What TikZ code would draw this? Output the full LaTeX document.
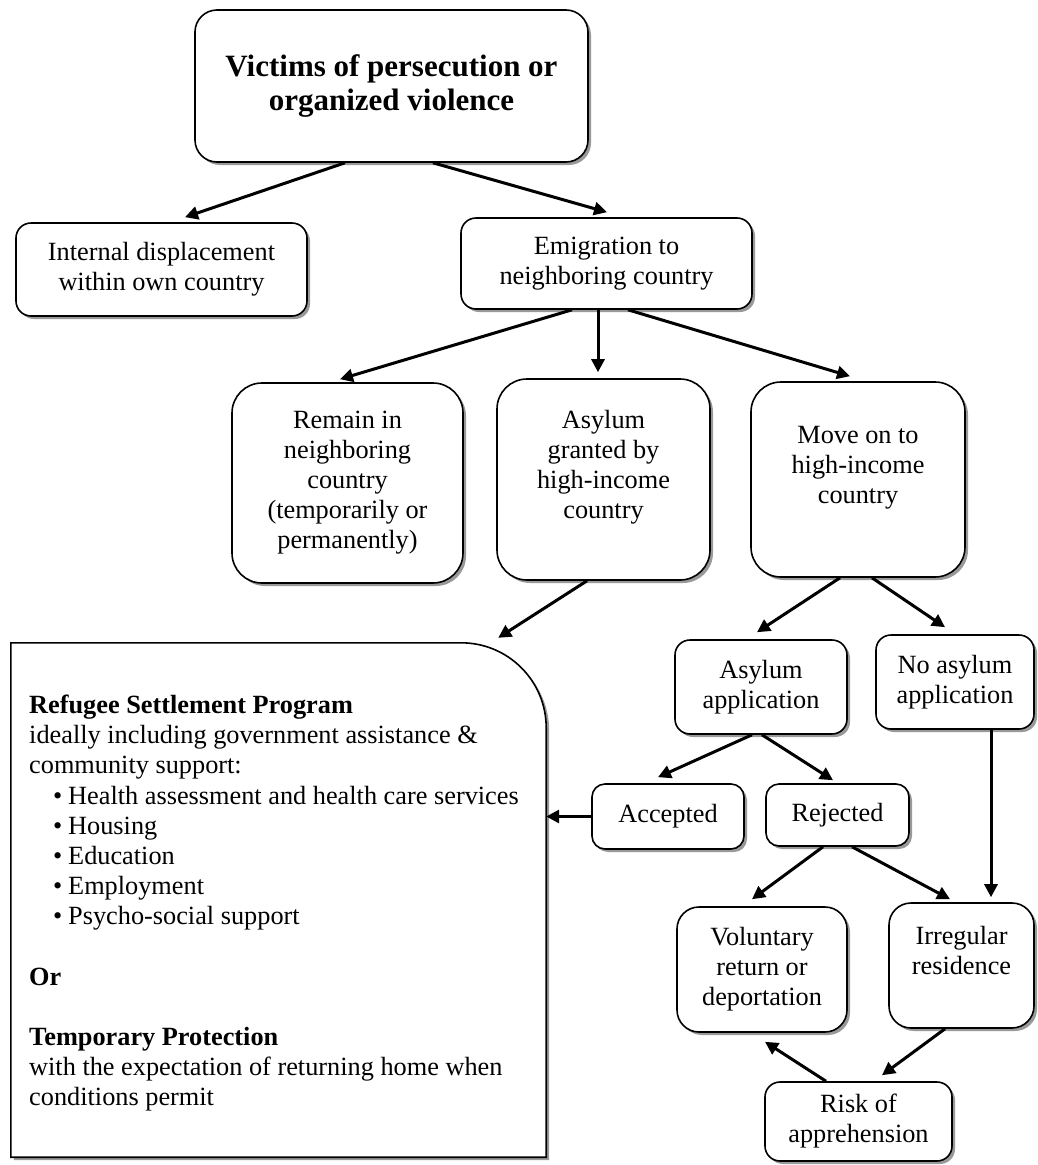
\documentclass[tikz,border=0pt]{standalone}
\usepackage{fontspec}
\setmainfont{Liberation Serif}
\usetikzlibrary{shadows,arrows.meta}

\begin{document}
\begin{tikzpicture}[x=1pt,y=-1pt,>={Stealth[length=13pt,width=13pt,inset=0pt]},
		font=\fontsize{26.3}{30}\selectfont,
		box/.style={draw,line width=1.6pt,fill=white,align=center,inner sep=0pt,rounded corners=#1,
			drop shadow={shadow xshift=3pt,shadow yshift=-3pt,fill=black!40,opacity=1}},
		box/.default=15pt,
		arr/.style={->,line width=3pt}]
		\useasboundingbox (0,0) rectangle (1038,1165);
		\node[box=22pt,minimum width=393pt,minimum height=152pt,font=\fontsize{31}{34}\selectfont\bfseries] (vict) at (391.5,86) {Victims of persecution or\\organized violence};
		\node[box,minimum width=291pt,minimum height=93pt] (intd) at (161.5,269.5) {Internal displacement\\within own country};
		\node[box,minimum width=291pt,minimum height=91pt] (emig) at (606.5,263.5) {Emigration to\\neighboring country};
		\node[box=30pt,minimum width=231pt,minimum height=200pt] (remain) at (347.5,483) {Remain in\\neighboring\\country\\(temporarily or\\permanently)};
		\node[box=30pt,minimum width=213pt,minimum height=201pt] (grant) at (603.5,479.5) {Asylum\\granted by\\high-income\\country\\\mbox{}};
		\node[box=30pt,minimum width=214pt,minimum height=195pt] (move) at (858,479.5) {Move on to\\high-income\\country\\\mbox{}};
		\node[minimum width=535pt,minimum height=514pt] (prog) at (278.5,900) {};
		\draw[line width=1.6pt,fill=white,drop shadow={shadow xshift=3pt,shadow yshift=-3pt,fill=black!40,opacity=1}] (prog.south west) -- (prog.north west) [rounded corners=85pt] -- (prog.north east) [sharp corners] -- (prog.south east) -- cycle;
		\node[anchor=north west,align=left,inner sep=0pt,font=\fontsize{26.3}{30.1}\selectfont] (progtxt) at (29,695) {\textbf{Refugee Settlement Program}\\ideally including government assistance \&\\community support:\\
			\hspace*{24pt}\makebox[15pt][l]{\textbullet}Health assessment and health care services\\
			\hspace*{24pt}\makebox[15pt][l]{\textbullet}Housing\\
			\hspace*{24pt}\makebox[15pt][l]{\textbullet}Education\\
			\hspace*{24pt}\makebox[15pt][l]{\textbullet}Employment\\
			\hspace*{24pt}\makebox[15pt][l]{\textbullet}Psycho-social support\\[31pt]
			\textbf{Or}\\[30pt]
			\textbf{Temporary Protection}\\with the expectation of returning home when\\conditions permit};
		\node[box,minimum width=172pt,minimum height=94pt] (aapp) at (761,687) {Asylum\\application};
		\node[box,minimum width=158pt,minimum height=94pt] (noapp) at (955,682) {No asylum\\application};
		\node[box=13pt,minimum width=152pt,minimum height=65pt] (acc) at (668,816.5) {Accepted};
		\node[box=13pt,minimum width=143pt,minimum height=62pt] (rej) at (837.5,815) {Rejected};
		\node[box=22pt,minimum width=170pt,minimum height=125pt] (vol) at (762,969.5) {Voluntary\\return or\\deportation};
		\node[box=22pt,minimum width=145pt,minimum height=125pt] (irr) at (961.5,965.5) {Irregular\\residence\\\mbox{}};
		\node[box,minimum width=187pt,minimum height=79pt] (risk) at (858.5,1121.5) {Risk of\\apprehension};
		\draw[arr] ([xshift=-46.5pt]vict.south) -- ([xshift=23.5pt,yshift=5pt]intd.north);
		\draw[arr] ([xshift=41.5pt]vict.south) -- ([xshift=0.5pt,yshift=5pt]emig.north);
		\draw[arr] ([xshift=-34.5pt]emig.south) -- ([xshift=-7.5pt,yshift=3pt]remain.north);
		\draw[arr] ([xshift=-8.5pt]emig.south) -- ([xshift=-5.5pt,yshift=6pt]grant.north);
		\draw[arr] ([xshift=21.5pt]emig.south) -- ([xshift=-8pt,yshift=5pt]move.north);
		\draw[arr] ([xshift=-16.5pt]grant.south) -- ([xshift=-48pt,yshift=5pt]prog.north east);
		\draw[arr] ([xshift=-18pt]move.south) -- ([xshift=-4pt,yshift=7pt]aapp.north);
		\draw[arr] ([xshift=14pt]move.south) -- ([xshift=-10pt,yshift=7pt]noapp.north);
		\draw[arr] ([xshift=-9pt]aapp.south) -- ([xshift=-10pt,yshift=6pt]acc.north);
		\draw[arr] ([xshift=1pt]aapp.south) -- ([xshift=-4.5pt,yshift=3pt]rej.north);
		\draw[arr] (acc.west) -- (prog.east |- acc.west);
		\draw[arr] ([xshift=-14.5pt]rej.south) -- ([xshift=-10pt,yshift=7pt]vol.north);
		\draw[arr] ([xshift=14.5pt]rej.south) -- ([xshift=-11.5pt,yshift=3pt]irr.north);
		\draw[arr] ([xshift=36pt]noapp.south) -- ([xshift=29.5pt,yshift=5pt]irr.north);
		\draw[arr] ([xshift=-16.5pt]irr.south) -- ([xshift=23.5pt,yshift=6pt]risk.north);
		\draw[arr] ([xshift=-32.5pt]risk.north) -- ([xshift=3pt,yshift=-9pt]vol.south);
	\end{tikzpicture}
\end{document}
